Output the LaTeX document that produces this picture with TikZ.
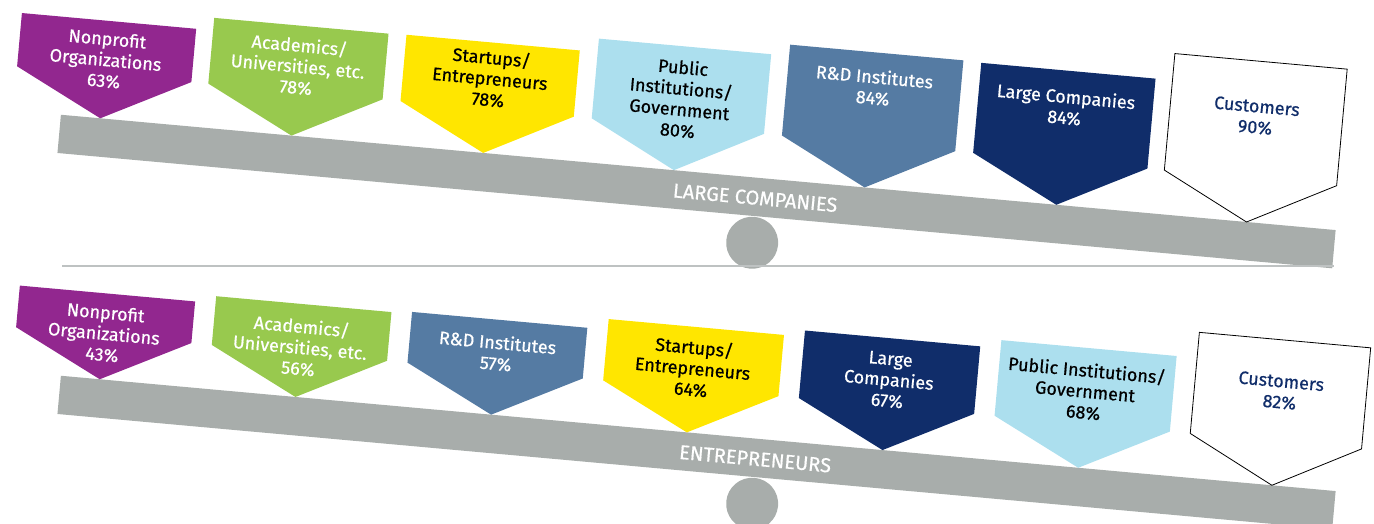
\documentclass[tikz,border=0pt]{standalone}
\usepackage{fontspec}
\setmainfont{Fira Sans}[FakeBold=0.6]
\definecolor{npurple}{RGB}{146,39,143}
\definecolor{agreen}{RGB}{152,201,78}
\definecolor{syellow}{RGB}{255,230,0}
\definecolor{plblue}{RGB}{172,223,238}
\definecolor{rdblue}{RGB}{85,123,163}
\definecolor{lcnavy}{RGB}{16,45,106}
\definecolor{beamgray}{RGB}{168,173,171}
\definecolor{sepgray}{RGB}{190,194,194}
\begin{document}
\begin{tikzpicture}[x=1pt,y=1pt,
  lbl/.style={align=center,font=\fontsize{18}{21}\selectfont,transform shape},
  beamlbl/.style={font=\fontsize{20}{22}\selectfont,text=white,transform shape},
  custbox/.style={fill=white,draw=black,line width=0.8pt}]
\useasboundingbox (0,0) rectangle (1374,-524);
% upper seesaw: large companies
\begin{scope}[rotate=-5.17]
  \fill[beamgray] (71,-108.8) rectangle (1351,-147.2);
  \fill[beamgray] (771,-174) circle (26);
  \node[beamlbl] (lcbeam) at (770,-129) {LARGE COMPANIES};
  % boxes
  \fill[npurple] (23,-11) -- (198,-11) -- (198,-64.5) -- (110.5,-108.8) -- (23,-64.5) -- cycle;
  \node[lbl,text=white] (np1) at (110.5,-49.9) {Nonprofit\\Organizations\\63\%};
  \fill[agreen] (215,1.5) -- (390,1.5) -- (390,-64.5) -- (302.5,-108.8) -- (215,-64.5) -- cycle;
  \node[lbl,text=white] (ac1) at (302.5,-38.7) {Academics/\\Universities, etc.\\78\%};
  \fill[syellow] (408,2) -- (582,2) -- (582,-64.5) -- (495,-108.8) -- (408,-64.5) -- cycle;
  \node[lbl,text=black] (st1) at (495,-33.6) {Startups/\\Entrepreneurs\\78\%};
  \fill[plblue] (600,15.5) -- (773,15.5) -- (773,-64.5) -- (686.5,-108.8) -- (600,-64.5) -- cycle;
  \node[lbl,text=black] (pu1) at (686.5,-36.9) {Public\\Institutions/\\Government\\80\%};
  \fill[rdblue] (791,26.7) -- (965,26.7) -- (965,-64.5) -- (878,-108.8) -- (791,-64.5) -- cycle;
  \node[lbl,text=white] (rd1) at (878,-8) {R\&D Institutes\\84\%};
  \fill[lcnavy] (983,25.8) -- (1158,25.8) -- (1158,-64.5) -- (1070.5,-108.8) -- (983,-64.5) -- cycle;
  \node[lbl,text=white] (lc1) at (1070.5,-10.4) {Large Companies\\84\%};
  \filldraw[custbox] (1175,52.5) -- (1348,52.5) -- (1348,-64.5) -- (1261.5,-108.8) -- (1175,-64.5) -- cycle;
  \node[lbl,text=lcnavy] (cu1) at (1261.5,-3.2) {Customers\\90\%};
\end{scope}
% separator
\draw[sepgray, line width=1.5pt] (62,-266) -- (1334,-266);
% lower seesaw: entrepreneurs
\begin{scope}[yshift=-261, rotate=-5.17]
  \fill[beamgray] (71,-108.8) rectangle (1351,-147.2);
  \fill[beamgray] (771,-174) circle (26);
  \node[beamlbl] (enbeam) at (770,-129) {ENTREPRENEURS};
  % boxes
  \fill[npurple] (22,-22.7) -- (198,-22.7) -- (198,-64.5) -- (110,-108.8) -- (22,-64.5) -- cycle;
  \node[lbl,text=white] (np2) at (110,-62.8) {Nonprofit\\Organizations\\43\%};
  \fill[agreen] (218.5,-15.6) -- (394.5,-15.6) -- (394.5,-64.5) -- (306.5,-108.8) -- (218.5,-64.5) -- cycle;
  \node[lbl,text=white] (ac2) at (306.5,-58.6) {Academics/\\Universities, etc.\\56\%};
  \fill[rdblue] (415,-13.6) -- (591,-13.6) -- (591,-64.5) -- (503,-108.8) -- (415,-64.5) -- cycle;
  \node[lbl,text=white] (rd2) at (503,-46.7) {R\&D Institutes\\57\%};
  \fill[syellow] (611.5,-3) -- (787.5,-3) -- (787.5,-64.5) -- (699.5,-108.8) -- (611.5,-64.5) -- cycle;
  \node[lbl,text=black] (st2) at (699.5,-44.1) {Startups/\\Entrepreneurs\\64\%};
  \fill[lcnavy] (808,3.3) -- (984,3.3) -- (984,-64.5) -- (896,-108.8) -- (808,-64.5) -- cycle;
  \node[lbl,text=white] (lc2) at (896,-38.5) {Large\\Companies\\67\%};
  \fill[plblue] (1004.5,11.4) -- (1180.5,11.4) -- (1180.5,-64.5) -- (1092.5,-108.8) -- (1004.5,-64.5) -- cycle;
  \node[lbl,text=black] (pu2) at (1092.5,-31.5) {Public Institutions/\\Government\\68\%};
  \filldraw[custbox] (1201,37) -- (1373,37) -- (1373,-64.5) -- (1287,-108.8) -- (1201,-64.5) -- cycle;
  \node[lbl,text=lcnavy] (cu2) at (1287,-14.9) {Customers\\82\%};
\end{scope}
\end{tikzpicture}
\end{document}
